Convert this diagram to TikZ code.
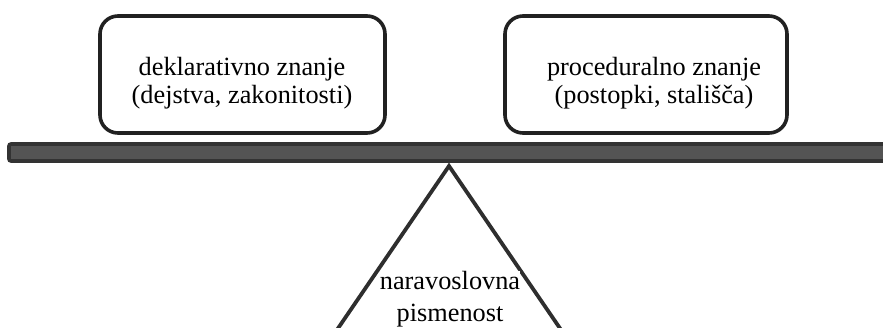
\documentclass[tikz,border=0pt]{standalone}
\usepackage{fontspec}
\setmainfont{Liberation Serif}
\begin{document}
\begin{tikzpicture}[x=1pt,y=-1pt,
  card/.style={draw=black!87,line width=3.6pt,rounded corners=18pt},
  lbl/.style={font=\fontsize{26.3}{28.5}\selectfont,align=center,inner sep=0pt},
  beam/.style={draw=black!80,fill=black!67,line width=3.6pt,rounded corners=2pt},
  fulcrum/.style={draw=black!82,line width=3.8pt}]
\useasboundingbox (0,0) rectangle (883,327);
\clip (0,0) rectangle (883,327);
\draw[card] (100,16) rectangle (385,133);
\draw[card] (505,16) rectangle (787,133);
\node[lbl] (dekl) at (242,83) {deklarativno znanje\\(dejstva, zakonitosti)};
\node[lbl] (proc) at (654,83) {proceduralno znanje\\(postopki, stališča)};
\draw[beam] (9,144) rectangle (895,161);
\coordinate (apex) at (449,166);
\coordinate (bl) at (289,400);
\coordinate (br) at (609,400);
\draw[fulcrum] (bl) -- (apex) -- (br);
\node[lbl,font=\fontsize{26.3}{31.5}\selectfont,fill=white] (nara) at (450,299) {naravoslovna\\pismenost};
\end{tikzpicture}
\end{document}
